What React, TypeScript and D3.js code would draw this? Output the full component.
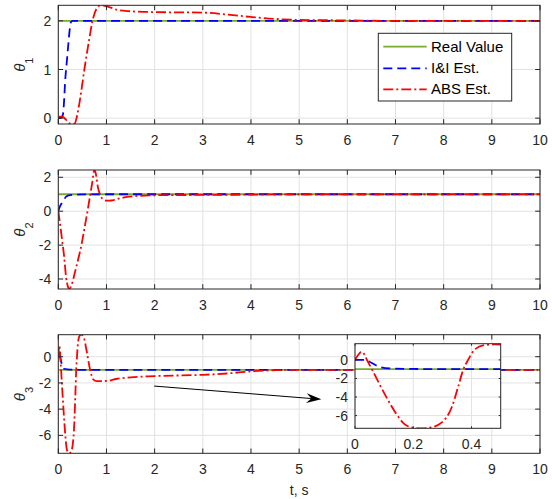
import React from "react";
import * as d3 from "d3";

type Pt = [number, number];

const W = 552;
const H = 499;
const FONT = "'Liberation Sans', Arial, Helvetica, sans-serif";
const AX = "#262626";
const GRID = "#e2e2e2";
const GREEN = "#77AC30";
const BLUE = "#0000FF";
const RED = "#FF0000";

// ----- data -----
const xTicksMain = [0, 1, 2, 3, 4, 5, 6, 7, 8, 9, 10];
const xTicksInset = [0, 0.2, 0.4];
const yTicks1 = [0, 1, 2];
const yTicks2 = [-4, -2, 0, 2];
const yTicks3 = [-6, -4, -2, 0];
const yLim1: Pt = [-0.12, 2.32];
const yLim2: Pt = [-4.59, 2.43];
const yLim3: Pt = [-7.37, 1.68];
const yLimInset: Pt = [-7.37, 1.75];
const xLimMain: Pt = [0, 10];
const xLimInset: Pt = [0, 0.5];

const legendLabels = ["Real Value", "I&I Est.", "ABS Est."];
const yLabels = ["1", "2", "3"];
const xLabel = "t, s";

const real1: Pt[] = [[0, 2], [10, 2]];
const real2: Pt[] = [[0, 1], [10, 1]];
const real3: Pt[] = [[0, -1], [10, -1]];

const ii1: Pt[] = [
  [0, 0], [0.05, 0.005], [0.09, 0.05], [0.12, 0.35], [0.14, 0.72], [0.18, 1.2],
  [0.21, 1.54], [0.24, 1.85], [0.26, 1.97], [0.3, 2], [10, 2],
];
const abs1: Pt[] = [
  [0, 0.03], [0.08, 0.03], [0.15, -0.02], [0.22, -0.1], [0.28, -0.12], [0.34, -0.11],
  [0.4, 0.1], [0.45, 0.38], [0.55, 1.06], [0.64, 1.61], [0.71, 2.0], [0.8, 2.26],
  [0.88, 2.32], [1.04, 2.29], [1.21, 2.23], [1.45, 2.2], [2, 2.18], [3, 2.17],
  [3.5, 2.13], [4, 2.08], [4.5, 2.04], [5, 2.02], [6, 2.01], [7, 2.0], [10, 2.0],
];

const ii2: Pt[] = [
  [0, 0], [0.03, 0.25], [0.06, 0.42], [0.1, 0.58], [0.15, 0.82], [0.2, 0.92],
  [0.3, 0.97], [0.5, 0.99], [1, 1], [10, 1],
];
const abs2: Pt[] = [
  [0, 0], [0.02, -0.4], [0.07, -1.5], [0.12, -2.65], [0.16, -3.85], [0.2, -4.45],
  [0.23, -4.59], [0.27, -4.4], [0.35, -3.55], [0.42, -2.75], [0.48, -2.0],
  [0.55, -0.9], [0.6, -0.1], [0.65, 0.75], [0.7, 1.6], [0.75, 2.43], [0.78, 2.2],
  [0.82, 1.45], [0.87, 0.95], [0.93, 0.7], [1.0, 0.62], [1.1, 0.63], [1.2, 0.7],
  [1.4, 0.83], [1.7, 0.91], [2, 0.94], [3, 0.96], [4, 0.98], [5, 1.0], [10, 1.0],
];

const ii3: Pt[] = [
  [0, 0], [0.036, 0], [0.05, -0.2], [0.07, -0.55], [0.09, -0.8], [0.12, -0.92],
  [0.2, -0.97], [0.3, -0.99], [0.5, -1.0], [10, -1.0],
];
const abs3: Pt[] = [
  [0, 0], [0.01, 0.5], [0.022, 0.88], [0.032, 0.6], [0.041, 0.0], [0.058, -1.0],
  [0.086, -2.73], [0.114, -4.37], [0.142, -5.83], [0.17, -6.92], [0.2, -7.3],
  [0.23, -7.37], [0.26, -7.28], [0.298, -6.74], [0.332, -5.1], [0.354, -2.9],
  [0.371, -1.1], [0.388, 0], [0.41, 1.09], [0.443, 1.6], [0.48, 1.68], [0.52, 1.58],
  [0.56, 1.0], [0.6, 0.2], [0.66, -1.0], [0.73, -1.75], [0.8, -1.86], [1.0, -1.85],
  [1.2, -1.7], [1.5, -1.57], [2, -1.48], [3, -1.38], [3.5, -1.28], [4, -1.12],
  [4.5, -1.03], [5, -1.0], [10, -1.0],
];

// arrow annotation (in bottom-panel data units)
const arrowFrom: Pt = [1.99, -2.24];
const arrowTo: Pt = [5.46, -3.25];

// ----- styles -----
const LW = 1.8;
const DASH_BLUE = "9,5";
const DASH_RED = "10,3,2,3";

type Series = { data: Pt[]; color: string; dash?: string };

function makeSeries(real: Pt[], ii: Pt[], abs: Pt[]): Series[] {
  return [
    { data: real, color: GREEN },
    { data: ii, color: BLUE, dash: DASH_BLUE },
    { data: abs, color: RED, dash: DASH_RED },
  ];
}

type PanelProps = {
  id: string;
  left: number;
  right: number;
  top: number;
  bottom: number;
  xDomain: Pt;
  yDomain: Pt;
  xTicks: number[];
  yTicks: number[];
  series: Series[];
  tickLen: number;
  bg?: boolean;
  xFmt?: (v: number) => string;
};

function Panel(p: PanelProps) {
  const x = d3.scaleLinear().domain(p.xDomain).range([p.left, p.right]);
  const y = d3.scaleLinear().domain(p.yDomain).range([p.bottom, p.top]);
  const line = d3
    .line<Pt>()
    .x((d) => x(d[0]))
    .y((d) => y(d[1]))
    .curve(d3.curveMonotoneX);
  const fmt = p.xFmt ?? ((v: number) => String(v));
  const yfmt = (v: number) => (v < 0 ? "-" + Math.abs(v) : String(v));
  return (
    <g>
      {p.bg && (
        <rect x={p.left} y={p.top} width={p.right - p.left} height={p.bottom - p.top} fill="white" />
      )}
      <clipPath id={p.id}>
        <rect x={p.left} y={p.top} width={p.right - p.left} height={p.bottom - p.top} />
      </clipPath>
      <g stroke={GRID} strokeWidth={1}>
        {p.xTicks.map((t) => (
          <line key={"gx" + t} x1={x(t)} x2={x(t)} y1={p.top} y2={p.bottom} />
        ))}
        {p.yTicks.map((t) => (
          <line key={"gy" + t} x1={p.left} x2={p.right} y1={y(t)} y2={y(t)} />
        ))}
      </g>
      <g clipPath={`url(#${p.id})`} fill="none">
        {p.series.map((s, i) => (
          <path
            key={i}
            d={line(s.data) ?? ""}
            stroke={s.color}
            strokeWidth={LW}
            strokeDasharray={s.dash}
          />
        ))}
      </g>
      <g stroke={AX} strokeWidth={1}>
        {p.xTicks.map((t) => (
          <g key={"tx" + t}>
            <line x1={x(t)} x2={x(t)} y1={p.bottom} y2={p.bottom - p.tickLen} />
            <line x1={x(t)} x2={x(t)} y1={p.top} y2={p.top + p.tickLen} />
          </g>
        ))}
        {p.yTicks.map((t) => (
          <g key={"ty" + t}>
            <line x1={p.left} x2={p.left + p.tickLen} y1={y(t)} y2={y(t)} />
            <line x1={p.right} x2={p.right - p.tickLen} y1={y(t)} y2={y(t)} />
          </g>
        ))}
        <rect
          x={p.left}
          y={p.top}
          width={p.right - p.left}
          height={p.bottom - p.top}
          fill="none"
        />
      </g>
      <g fill={AX} fontFamily={FONT} fontSize={14}>
        {p.xTicks.map((t) => (
          <text key={"lx" + t} x={x(t)} y={p.bottom + 21} textAnchor="middle">
            {fmt(t)}
          </text>
        ))}
        {p.yTicks.map((t) => (
          <text key={"ly" + t} x={p.left - 7} y={y(t) + 5} textAnchor="end">
            {yfmt(t)}
          </text>
        ))}
      </g>
    </g>
  );
}

function ThetaLabel({ cy, sub }: { cy: number; sub: string }) {
  return (
    <text
      transform={`translate(25,${cy}) rotate(-90)`}
      textAnchor="middle"
      fontFamily={FONT}
      fill={AX}
      fontSize={15}
    >
      <tspan fontStyle="italic">θ</tspan>
      <tspan fontSize={11} dy={8}>
        {sub}
      </tspan>
    </text>
  );
}

export default function App() {
  const L = 58.3;
  const R = 540;
  const panels = [
    { top: 5.3, bottom: 124, yLim: yLim1, yTicks: yTicks1, s: makeSeries(real1, ii1, abs1) },
    { top: 170, bottom: 289, yLim: yLim2, yTicks: yTicks2, s: makeSeries(real2, ii2, abs2) },
    { top: 334.7, bottom: 453.3, yLim: yLim3, yTicks: yTicks3, s: makeSeries(real3, ii3, abs3) },
  ];
  const x3 = d3.scaleLinear().domain(xLimMain).range([L, R]);
  const y3 = d3.scaleLinear().domain(yLim3).range([453.3, 334.7]);
  const ax1 = x3(arrowFrom[0]);
  const ay1 = y3(arrowFrom[1]);
  const ax2 = x3(arrowTo[0]);
  const ay2 = y3(arrowTo[1]);
  const ang = Math.atan2(ay2 - ay1, ax2 - ax1);
  const headLen = 15;
  const headW = 5;
  const notch = 10;
  const pt = (along: number, perp: number) => {
    const px = ax2 - along * Math.cos(ang) - perp * Math.sin(ang);
    const py = ay2 - along * Math.sin(ang) + perp * Math.cos(ang);
    return `${px},${py}`;
  };
  const head = [pt(0, 0), pt(headLen, headW), pt(notch, 0), pt(headLen, -headW)].join(" ");

  const legend = { x: 378.3, y: 33.3, w: 133.4, h: 67.7 };
  const legendRows = [46.7, 68.3, 89.3];
  const legendStyles = [
    { color: GREEN, dash: undefined as string | undefined },
    { color: BLUE, dash: DASH_BLUE },
    { color: RED, dash: DASH_RED },
  ];

  return (
    <svg
      width={W}
      height={H}
      viewBox={`0 0 ${W} ${H}`}
      style={{ position: "absolute", left: 0, top: 0, display: "block", background: "white" }}
    >
      <rect x={0} y={0} width={W} height={H} fill="white" />
      {panels.map((p, i) => (
        <g key={i}>
          <Panel
            id={"clip" + i}
            left={L}
            right={R}
            top={p.top}
            bottom={p.bottom}
            xDomain={xLimMain}
            yDomain={p.yLim}
            xTicks={xTicksMain}
            yTicks={p.yTicks}
            series={p.s}
            tickLen={4.8}
          />
          <ThetaLabel cy={(p.top + p.bottom) / 2} sub={yLabels[i]} />
        </g>
      ))}
      {/* legend */}
      <g>
        <rect
          x={legend.x}
          y={legend.y}
          width={legend.w}
          height={legend.h}
          fill="white"
          stroke={AX}
          strokeWidth={1}
        />
        {legendLabels.map((lab, i) => (
          <g key={lab}>
            <line
              x1={383.3}
              x2={426.7}
              y1={legendRows[i]}
              y2={legendRows[i]}
              stroke={legendStyles[i].color}
              strokeWidth={LW}
              strokeDasharray={legendStyles[i].dash}
            />
            <text x={431} y={legendRows[i] + 5} fontFamily={FONT} fontSize={15} fill="#000">
              {lab}
            </text>
          </g>
        ))}
      </g>
      {/* arrow */}
      <line x1={ax1} y1={ay1} x2={x3(arrowTo[0]) - 10 * Math.cos(ang)} y2={ay2 - 10 * Math.sin(ang)} stroke="#000" strokeWidth={1} />
      <polygon points={head} fill="#000" />
      {/* inset */}
      <Panel
        id="clipInset"
        left={355}
        right={500.7}
        top={343.7}
        bottom={428.3}
        xDomain={xLimInset}
        yDomain={yLimInset}
        xTicks={xTicksInset}
        yTicks={yTicks3}
        series={makeSeries(real3, ii3, abs3)}
        tickLen={2}
        bg
        xFmt={(v) => String(v)}
      />
      <text x={(L + R) / 2} y={495} textAnchor="middle" fontFamily={FONT} fontSize={14} fill={AX}>
        {xLabel}
      </text>
    </svg>
  );
}
